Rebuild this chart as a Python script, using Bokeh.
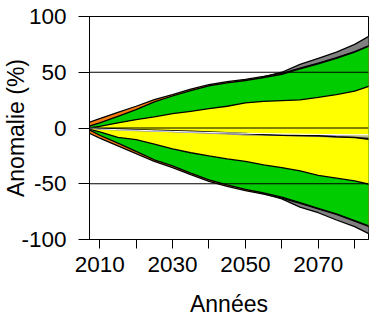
from bokeh.embed import file_html
from bokeh.models import FixedTicker, Range1d, Span
from bokeh.plotting import figure
from bokeh.resources import INLINE

# Projection years
years = [2007, 2010, 2015, 2020, 2025, 2030, 2035, 2040, 2045,
         2050, 2055, 2060, 2065, 2070, 2075, 2080, 2084]

# Envelope bounds of the anomaly (%), outermost to innermost
gray_hi = [0, 3, 8, 14, 21, 26.5, 31.5, 35.5, 38.5, 41, 45.8, 50, 57, 62.5, 68, 75, 82.5]
gray_lo = [0, -5, -12, -19.5, -27, -32.5, -39, -45, -49.5, -53.5, -58.8, -63.5, -71, -76, -82.5, -88.5, -95]

orange_hi = [5, 8.5, 14, 19.5, 25.5, 30, 34.8, 38.8, 41.5, 43.7, 46.3, 49, 53.8, 58.2, 63.2, 68.6, 74]
orange_lo = [-4.5, -9, -16, -23, -30, -35.5, -41.8, -47.8, -52.3, -56.2, -59.3, -62.8, -67.6, -72.5, -77.5, -83.5, -88.5]

green_hi = [1.5, 4.5, 10.5, 16.5, 23.5, 28.7, 33.6, 37.7, 40.4, 42.6, 45.3, 48, 53, 57.5, 62.5, 68, 73.5]
green_lo = [-1.5, -6.5, -13.5, -21, -28.5, -34, -40.5, -46.5, -51, -55, -58.3, -62, -67, -72, -77, -83, -88]

yellow_hi = [0, 1.5, 4.5, 7.5, 10, 12.8, 15, 17.3, 19.5, 22.5, 23.8, 24.5, 25.2, 27.5, 30, 33, 37.5]
yellow_lo = [-1, -3.5, -8.5, -10.5, -14.5, -18.7, -22.2, -25, -27.7, -30, -33, -35.5, -38.5, -42.5, -45, -47.5, -50.5]

# Median trajectories
med_gray = [0, -0.8, -1.5, -2.2, -2.7, -3.2, -3.8, -4.5, -5.2, -6, -6.3, -6.5, -7, -7.5, -8, -8.2, -8.5]
med_purple = [0, -0.7, -1.4, -2.1, -2.8, -3.3, -3.9, -4.4, -5, -5.5, -5.8, -6.1, -6.4, -6.6, -6.8, -7, -7.2]
med_black = [0, -0.5, -1, -1.5, -2, -2.5, -3, -3.5, -4.2, -5, -5.8, -6.5, -6.8, -7, -7.8, -8.5, -10]
med_white = [0, -0.8, -1.5, -2, -2.5, -3, -3.5, -4, -4.4, -4.8, -5, -5.3, -5.5, -5.8, -5.9, -6, -6]

y_ticks = [-100, -50, 0, 50, 100]
y_labels = {-100: "-100", -50: "-50", 0: "0", 50: "50", 100: "100"}
x_ticks = [2010, 2020, 2030, 2040, 2050, 2060, 2070, 2080]
x_labels = {2010: "2010", 2020: "", 2030: "2030", 2040: "", 2050: "2050",
            2060: "", 2070: "2070", 2080: ""}

FONT = "Liberation Sans"

p = figure(width=369, height=320, output_backend="svg", toolbar_location=None,
           x_range=Range1d(2007.2, 2083.8), y_range=Range1d(-100, 100),
           min_border_left=88, min_border_right=1, min_border_top=16,
           min_border_bottom=81)
p.background_fill_color = "white"
p.border_fill_color = "white"
p.outline_line_color = "black"
p.outline_line_width = 1
p.xgrid.visible = False
p.ygrid.visible = False

bands = [
    (gray_lo, gray_hi, "#808080"),
    (orange_lo, orange_hi, "#F47A12"),
    (green_lo, green_hi, "#00CC00"),
    (yellow_lo, yellow_hi, "#FFFF00"),
]
for lo, hi, col in bands:
    p.varea(x=years, y1=lo, y2=hi, fill_color=col)
    p.line(years, hi, line_color="black", line_width=1.3)
    p.line(years, lo, line_color="black", line_width=1.3)

p.line(years, med_gray, line_color="#808080", line_width=1.5)
p.line(years, med_purple, line_color="#A898E8", line_width=1)
p.line(years, med_black, line_color="black", line_width=1.5)
p.line(years, med_white, line_color="white", line_width=1)

for level in (50, 0, -50):
    p.add_layout(Span(location=level, dimension="width", line_color="black", line_width=1))

for ax in (p.xaxis[0], p.yaxis[0]):
    ax.axis_line_color = "black"
    ax.major_tick_line_color = "black"
    ax.minor_tick_line_color = None
    ax.major_tick_in = 0
    ax.major_label_text_font = FONT
    ax.major_label_text_font_size = "22.5px"
    ax.major_label_text_color = "black"
    ax.axis_label_text_font = FONT
    ax.axis_label_text_font_size = "23px"
    ax.axis_label_text_font_style = "normal"
    ax.axis_label_text_color = "black"

p.yaxis.ticker = FixedTicker(ticks=y_ticks)
p.yaxis.major_label_overrides = y_labels
p.yaxis.major_tick_out = 11
p.yaxis.major_label_standoff = 12
p.yaxis.axis_label = "Anomalie (%)"
# the rotated title sits beside the short tick labels, so pull it inward
p.yaxis.axis_label_standoff = -11

p.xaxis.ticker = FixedTicker(ticks=x_ticks)
p.xaxis.major_label_overrides = x_labels
p.xaxis.major_tick_out = 9
p.xaxis.major_label_standoff = 8
p.xaxis.axis_label = "Années"
p.xaxis.axis_label_standoff = 16

open("out.html", "w").write(file_html(p, INLINE))
